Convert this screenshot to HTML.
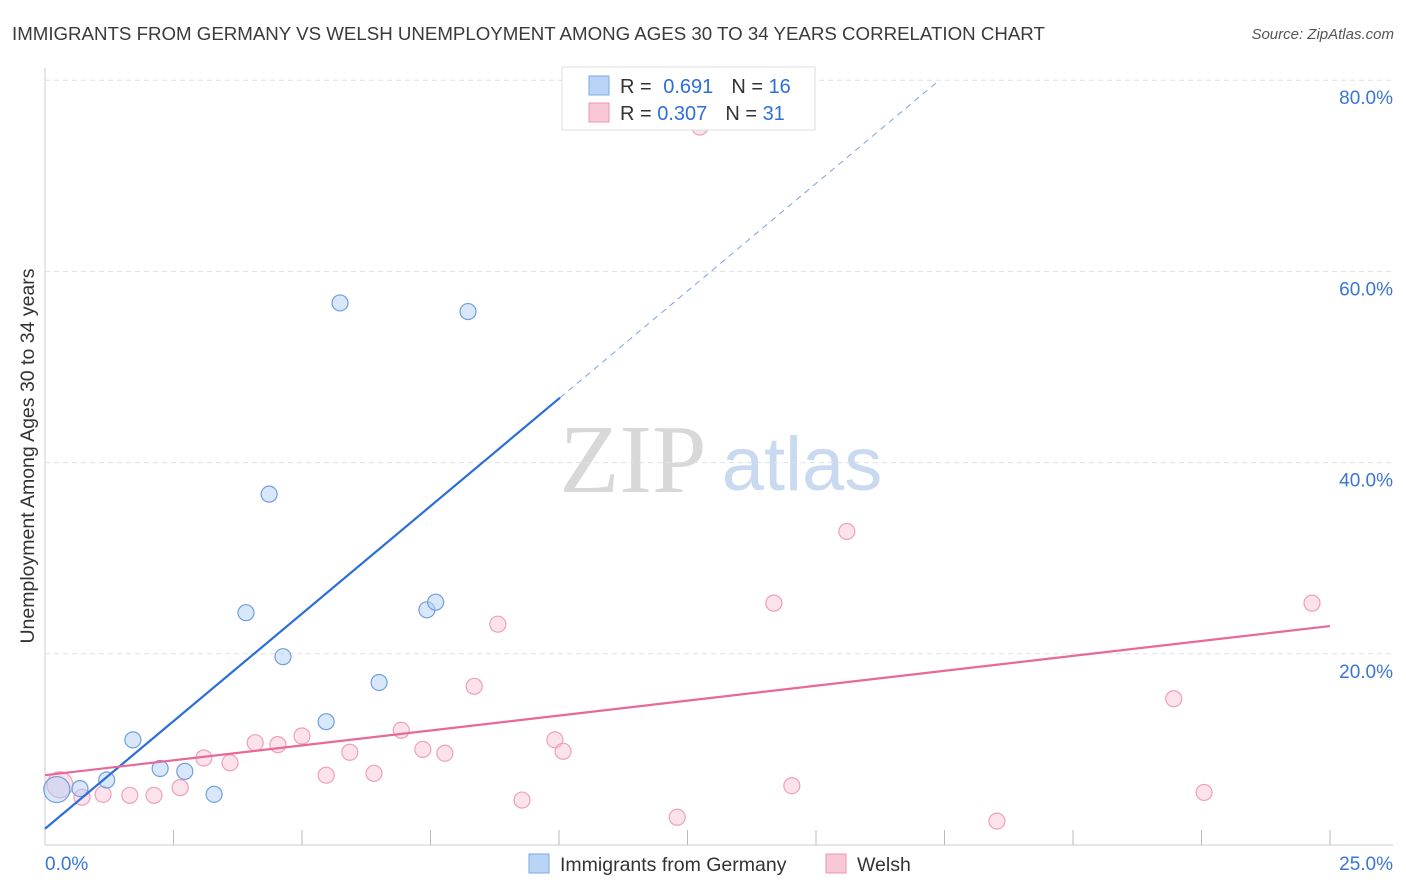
<!DOCTYPE html>
<html><head><meta charset="utf-8"><style>
body{margin:0;background:#fff;font-family:"Liberation Sans",sans-serif;}
svg{display:block}
</style></head><body>
<svg id="c" width="1406" height="892">
<text x="12" y="40" font-size="18.7" fill="#3a3a3a">IMMIGRANTS FROM GERMANY VS WELSH UNEMPLOYMENT AMONG AGES 30 TO 34 YEARS CORRELATION CHART</text>
<text x="1394" y="39" font-size="15" fill="#555" text-anchor="end" font-style="italic">Source: ZipAtlas.com</text>
<text x="633" y="492" font-size="98" fill="#d8d8d8" font-family="Liberation Serif,serif" text-anchor="middle">ZIP</text>
<text x="802" y="490" font-size="76" fill="#c9daf0" text-anchor="middle">atlas</text>
<text transform="translate(34,456) rotate(-90)" font-size="19.5" fill="#333" text-anchor="middle">Unemployment Among Ages 30 to 34 years</text>
<g id="grid"></g><g id="marks"></g>
<g>
<rect x="562" y="67" width="253" height="63" fill="#fff" stroke="#ddd"/>
<rect x="589" y="76" width="20" height="19" fill="#b9d4f5" stroke="#7aa9e6"/>
<rect x="589" y="103" width="20" height="19" fill="#f9c8d6" stroke="#ec94ae"/>
<text x="620" y="93" font-size="20" fill="#333">R = <tspan fill="#2e6fd8" dx="6">0.691</tspan><tspan dx="18" fill="#333">N = </tspan><tspan fill="#2e6fd8">16</tspan></text>
<text x="620" y="120" font-size="20" fill="#333">R = <tspan fill="#2e6fd8">0.307</tspan><tspan dx="18" fill="#333">N = </tspan><tspan fill="#2e6fd8">31</tspan></text>
</g>
<g>
<rect x="529" y="854" width="20" height="19" fill="#b9d4f5" stroke="#7aa9e6"/>
<text x="560" y="871" font-size="19.5" fill="#333">Immigrants from Germany</text>
<rect x="826" y="854" width="20" height="19" fill="#f9c8d6" stroke="#ec94ae"/>
<text x="857" y="871" font-size="19.5" fill="#333">Welsh</text>
</g>
</svg>
<script>
const yTicks=[20,40,60,80];
const xTickLabels=["0.0%","25.0%"];
const blueX=[0.23,0.68,1.2,1.71,2.24,2.72,3.29,3.91,4.36,4.63,5.47,5.74,6.5,7.43,7.6,8.23];
const blueY=[5.8,5.9,6.8,11.0,8.0,7.7,5.3,24.3,36.7,19.7,12.9,56.7,17.0,24.6,25.4,55.8];
const pinkX=[0.29,0.72,1.13,1.65,2.12,2.63,3.09,3.6,4.09,4.53,5.0,5.47,5.93,6.4,6.93,7.35,7.78,8.35,8.81,9.28,9.92,10.08,12.3,12.74,14.18,14.53,15.6,18.52,21.96,22.55,24.65];
const pinkY=[6.3,5.0,5.3,5.2,5.2,6.0,9.1,8.6,10.7,10.5,11.4,7.3,9.7,7.5,12.0,10.0,9.6,16.6,23.1,4.7,11.0,9.8,2.9,75.1,25.3,6.2,32.8,2.5,15.3,5.5,25.3];
const blueLine=[1.7,4.5]; // intercept, slope
const pinkLine=[7.3,0.624];
const X=v=>45+v*51.4, Y=v=>845-v*9.56;
const NS="http://www.w3.org/2000/svg";
function mk(p,t,a){const e=document.createElementNS(NS,t);for(const k in a)e.setAttribute(k,a[k]);p.appendChild(e);return e;}
const g=document.getElementById('grid'),m=document.getElementById('marks');
mk(g,'line',{x1:45,y1:68,x2:45,y2:845,stroke:'#ccc'});
mk(g,'line',{x1:45,y1:845,x2:1393,y2:845,stroke:'#ccc'});
yTicks.forEach(t=>{
 const l=mk(g,'line',{x1:45,y1:Y(t),x2:1393,y2:Y(t),stroke:'#e0e0e0','stroke-dasharray':'5,4'});
 
 
 const tx=mk(g,'text',{x:1393,y:Y(t)+24,'font-size':19,fill:'#3a75d6','text-anchor':'end'});tx.textContent=t.toFixed(1)+'%';
 
 
});
for(let i=1;i<=10;i++){const x=X(i*2.5);const l=mk(g,'line',{x1:x,y1:830,x2:x,y2:845,stroke:'#bbb'});
 
 }
const t0=mk(g,'text',{x:45,y:870,'font-size':19,fill:'#3a75d6'});t0.textContent=xTickLabels[0];


const t1=mk(g,'text',{x:1393,y:870,'font-size':19,fill:'#3a75d6','text-anchor':'end'});t1.textContent=xTickLabels[1];


pinkX.forEach((x,i)=>{const c=mk(m,'circle',{cx:X(x),cy:Y(pinkY[i]),r:i==0?13:8,fill:'rgba(249,190,210,0.45)',stroke:'#eea0b9','stroke-width':1.2});
 
 });
blueX.forEach((x,i)=>{const c=mk(m,'circle',{cx:X(x),cy:Y(blueY[i]),r:i==0?13:8,fill:'rgba(180,208,245,0.5)',stroke:'#6e9fde','stroke-width':1.2});
 
 });
const bl=mk(m,'line',{x1:X(0),y1:Y(blueLine[0]),x2:X(10.02),y2:Y(blueLine[0]+blueLine[1]*10.02),stroke:'#2a6fd8','stroke-width':2.2});


const xe=(80-blueLine[0])/blueLine[1];
const bd=mk(m,'line',{x1:X(10.02),y1:Y(blueLine[0]+blueLine[1]*10.02),x2:X(xe),y2:Y(80),stroke:'#7aa3dc','stroke-width':1,'stroke-dasharray':'6,5'});


const pl=mk(m,'line',{x1:X(0),y1:Y(pinkLine[0]),x2:X(25),y2:Y(pinkLine[0]+pinkLine[1]*25),stroke:'#e8689a','stroke-width':2.2});


</script>
</body></html>
